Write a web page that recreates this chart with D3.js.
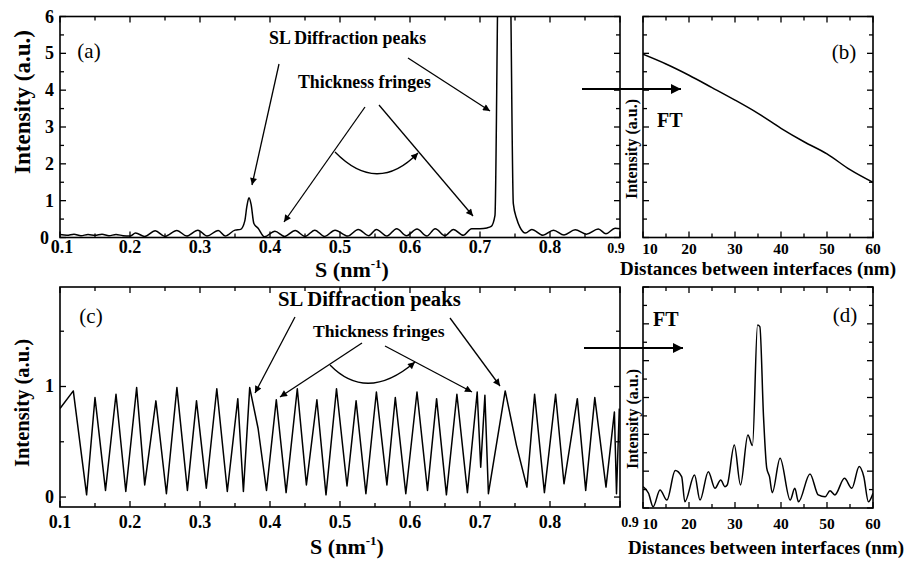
<!DOCTYPE html>
<html>
<head>
<meta charset="utf-8">
<script src="https://cdn.jsdelivr.net/npm/d3@7"></script>
<style>
  body { margin: 0; background: #fff; }
  text { fill: #000; }
</style>
</head>
<body>
<script>
// ---- data ----
// (a) reflectivity-like scan, intensity vs S (nm^-1)
var aS = [0.100,0.110,0.120,0.130,0.140,0.150,0.160,0.170,0.180,0.190,
          0.200,0.208,0.221,0.236,0.250,0.267,0.281,0.297,0.310,0.326,
          0.336,0.350,0.358,0.364,0.367,0.370,0.373,0.377,0.383,0.392,
          0.407,0.421,0.436,0.450,0.464,0.478,0.493,0.511,0.526,0.541,
          0.552,0.567,0.581,0.595,0.610,0.624,0.636,0.650,0.662,0.676,
          0.688,0.700,0.710,0.716,0.7214,0.7253,0.730,0.735,0.740,0.7439,
          0.7476,0.7524,0.757,0.765,0.774,0.790,0.805,0.820,0.836,0.852,
          0.869,0.880,0.893,0.900];
var aI = [0.08,0.06,0.09,0.05,0.08,0.06,0.09,0.05,0.08,0.05,
          0.04,0.12,0.03,0.18,0.03,0.19,0.04,0.20,0.04,0.19,
          0.04,0.20,0.22,0.45,0.85,1.08,0.90,0.38,0.25,0.02,
          0.17,0.03,0.19,0.03,0.20,0.03,0.20,0.04,0.22,0.05,
          0.22,0.04,0.24,0.05,0.23,0.04,0.24,0.05,0.22,0.06,
          0.24,0.24,0.26,0.30,0.60,6.50,12.0,15.0,12.0,6.50,
          0.92,0.51,0.28,0.12,0.22,0.06,0.20,0.07,0.21,0.09,
          0.23,0.10,0.25,0.24];

// (b) FT of (a)
var bD = [10,15,20,25,30,35,40,45,50,55,60];
var bI = [9.95,9.42,8.81,8.14,7.46,6.74,5.93,5.20,4.54,3.68,2.99];

// (c) normalised scan
var cS = [0.100,0.119,0.138,0.150,0.165,0.180,0.194,0.2095,0.221,0.237,
          0.252,0.267,0.282,0.295,0.309,0.324,0.339,0.354,0.362,0.371,
          0.383,0.395,0.409,0.423,0.439,0.452,0.467,0.480,0.495,0.510,
          0.523,0.537,0.552,0.567,0.579,0.594,0.610,0.625,0.638,0.652,
          0.667,0.682,0.696,0.701,0.707,0.712,0.736,0.752,0.767,0.778,
          0.792,0.808,0.820,0.839,0.851,0.864,0.880,0.892,0.895,0.899];
var cI = [0.80,0.96,0.02,0.90,0.06,0.93,0.05,0.99,0.11,0.87,
          0.03,0.99,0.06,0.87,0.08,0.98,0.05,0.89,0.05,0.99,
          0.62,0.06,0.88,0.04,0.98,0.11,0.88,0.02,0.98,0.10,
          0.87,0.03,0.95,0.11,0.90,0.03,0.95,0.06,0.89,0.02,
          0.93,0.04,0.95,0.27,0.92,0.03,0.96,0.47,0.09,0.93,
          0.04,0.93,0.12,0.89,0.06,0.90,0.09,0.77,0.03,0.80];

// (d) FT of (c)
var dD = [10.0,11.2,12.2,13.7,15.2,17.0,18.4,19.1,21.2,22.4,
          24.2,25.65,26.9,27.8,28.3,29.85,31.2,32.8,33.8,34.9,
          35.4,36.2,36.9,37.5,38.1,39.8,42.0,43.0,43.8,46.3,
          48.1,49.6,50.65,51.7,53.8,55.4,57.0,58.0,59.0,60.0];
var dI = [1.16,0.80,0.07,0.98,0.43,2.03,1.70,0.34,1.79,0.43,
          1.97,1.07,1.52,1.16,1.25,3.42,1.25,3.97,3.39,9.93,
          9.85,4.96,2.16,1.70,0.83,2.70,0.43,1.07,0.34,1.85,
          0.71,0.61,0.94,0.71,1.61,1.07,2.25,1.70,0.34,0.80];

// tick labels
var sTicks = [0.1,0.2,0.3,0.4,0.5,0.6,0.7,0.8,0.9];
var dTicks = [10,20,30,40,50,60];
var aYTicks = [0,1,2,3,4,5,6];
var cYTicks = [0,1];

// ---- drawing ----
var svg = d3.select("body").append("svg").attr("width", 909).attr("height", 563)
  .attr("font-family", "'Liberation Serif', 'Times New Roman', 'DejaVu Serif', serif");
var defs = svg.append("defs");

function marker(id, w, h) {
  defs.append("marker").attr("id", id)
    .attr("viewBox", "0 0 10 10").attr("refX", 10).attr("refY", 5)
    .attr("markerWidth", w).attr("markerHeight", h)
    .attr("markerUnits", "userSpaceOnUse").attr("orient", "auto")
    .append("path").attr("d", "M0,0 L10,5 L0,10 z").attr("fill", "#000");
}
marker("ah", 9, 7);
marker("ahBig", 12, 10);

var clipN = 0;
function panel(o) {
  var x = d3.scaleLinear().domain(o.xdom).range([o.x0, o.x1]);
  var y = d3.scaleLinear().domain(o.ydom).range([o.y1, o.y0]);
  var g = svg.append("g");
  var id = "clip" + (clipN++);
  defs.append("clipPath").attr("id", id).append("rect")
    .attr("x", o.x0).attr("y", o.y0).attr("width", o.x1 - o.x0).attr("height", o.y1 - o.y0);

  var line = d3.line().curve(o.curve || d3.curveLinear)
    .x(function(d) { return x(d[0]); }).y(function(d) { return y(d[1]); });
  g.append("path").datum(d3.zip(o.xs, o.ys))
    .attr("clip-path", "url(#" + id + ")")
    .attr("d", line).attr("fill", "none").attr("stroke", "#000")
    .attr("stroke-width", 1.5).attr("stroke-linejoin", "round");

  // ticks inward on all four sides
  function tick(x1, y1, x2, y2) {
    g.append("line").attr("x1", x1).attr("y1", y1).attr("x2", x2).attr("y2", y2)
      .attr("stroke", "#000").attr("stroke-width", 1.3);
  }
  o.xMinor.forEach(function(v) {
    var L = o.xMajor.some(function(m) { return Math.abs(m - v) < 1e-9; }) ? 6 : 4;
    tick(x(v), o.y1, x(v), o.y1 - L);
    tick(x(v), o.y0, x(v), o.y0 + L);
  });
  o.yMinor.forEach(function(v) {
    var L = o.yMajor.some(function(m) { return Math.abs(m - v) < 1e-9; }) ? 6 : 4;
    tick(o.x0, y(v), o.x0 + L, y(v));
    tick(o.x1, y(v), o.x1 - L, y(v));
  });

  g.append("rect").attr("x", o.x0).attr("y", o.y0)
    .attr("width", o.x1 - o.x0).attr("height", o.y1 - o.y0)
    .attr("fill", "none").attr("stroke", "#000").attr("stroke-width", 1.6);

  // tick labels
  o.xLabels.forEach(function(v, i) {
    var last = (i === o.xLabels.length - 1) && o.smallLast;
    var dx = i === 0 ? (o.firstDx || 0) : 0;
    g.append("text")
      .attr("x", x(v) + dx + (last ? o.lastDx : 0))
      .attr("y", o.xLabelY + (last ? o.lastDy : 0))
      .attr("text-anchor", "middle")
      .attr("font-weight", "bold")
      .attr("font-size", last ? 14 : o.xLabelSize)
      .text(v);
  });
  (o.yLabels || []).forEach(function(v) {
    var dx = v === 0 ? (o.zeroDx || 0) : 0;
    g.append("text").attr("x", o.x0 - 6 + dx).attr("y", y(v) + 6)
      .attr("text-anchor", "end").attr("font-weight", "bold").attr("font-size", 18)
      .text(v);
  });
  return { x: x, y: y, g: g };
}

var rangeStep = function(a, b, s) { return d3.range(Math.round((b - a) / s) + 1).map(function(i) { return +(a + i * s).toFixed(4); }); };

panel({ x0: 60, x1: 620, y0: 16.5, y1: 237.5, xdom: [0.1, 0.9], ydom: [0, 6],
  xs: aS, ys: aI, curve: d3.curveMonotoneX, xMajor: sTicks, xMinor: rangeStep(0.1, 0.9, 0.05),
  yMajor: aYTicks, yMinor: rangeStep(0, 6, 0.5),
  xLabels: sTicks, xLabelY: 252.5, xLabelSize: 18, yLabels: aYTicks,
  smallLast: true, lastDx: -4, lastDy: 0, firstDx: 2, zeroDx: -5 });

panel({ x0: 643, x1: 873, y0: 16.5, y1: 237.5, xdom: [10, 60], ydom: [0, 12],
  xs: bD, ys: bI, curve: d3.curveMonotoneX, xMajor: dTicks, xMinor: rangeStep(10, 60, 5),
  yMajor: rangeStep(0, 12, 2), yMinor: rangeStep(0, 12, 1),
  xLabels: dTicks, xLabelY: 254, xLabelSize: 15.5, firstDx: 7 });

panel({ x0: 60, x1: 620, y0: 287, y1: 507, xdom: [0.1, 0.9], ydom: [-0.09, 1.9],
  xs: cS, ys: cI, xMajor: sTicks, xMinor: rangeStep(0.1, 0.9, 0.05),
  yMajor: cYTicks, yMinor: rangeStep(0, 1.5, 0.5),
  xLabels: sTicks, xLabelY: 528, xLabelSize: 18, yLabels: cYTicks,
  smallLast: true, lastDx: 10, lastDy: -1 });

panel({ x0: 643, x1: 873, y0: 287, y1: 508, xdom: [10, 60], ydom: [0, 12],
  xs: dD, ys: dI, curve: d3.curveMonotoneX, xMajor: dTicks, xMinor: rangeStep(10, 60, 5),
  yMajor: rangeStep(0, 12, 2), yMinor: rangeStep(0, 12, 1),
  xLabels: dTicks, xLabelY: 529, xLabelSize: 15.5, firstDx: 7 });

// axis titles
function txt(x, y, s, size, weight, anchor, rot) {
  var t = svg.append("text").attr("x", x).attr("y", y)
    .attr("font-size", size).attr("font-weight", weight || "bold")
    .attr("text-anchor", anchor || "middle");
  if (rot) t.attr("transform", "rotate(-90," + x + "," + y + ")");
  return t.text(s);
}
txt(30, 102, "Intensity (a.u.)", 23, "bold", "middle", true);
txt(29, 403, "Intensity (a.u.)", 20.5, "bold", "middle", true);
txt(637, 149, "Intensity (a.u.)", 16, "bold", "middle", true);
txt(638, 419, "Intensity (a.u.)", 16, "bold", "middle", true);

function sTitle(x, y) {
  var t = svg.append("text").attr("x", x).attr("y", y)
    .attr("font-size", 22).attr("font-weight", "bold").attr("text-anchor", "middle");
  t.append("tspan").text("S (nm");
  t.append("tspan").attr("font-size", 13).attr("dy", -9).text("-1");
  t.append("tspan").attr("dy", 9).text(")");
}
sTitle(352, 277);
sTitle(347, 554);
txt(758, 275, "Distances between interfaces (nm)", 19);
txt(766, 554, "Distances between interfaces (nm)", 19);

// panel letters
txt(89, 58, "(a)", 21, "normal");
txt(844, 59, "(b)", 21, "normal");
txt(91, 323, "(c)", 21, "normal");
txt(845, 322, "(d)", 21, "normal");

// annotations
function arrow(x1, y1, x2, y2, big) {
  svg.append("line").attr("x1", x1).attr("y1", y1).attr("x2", x2).attr("y2", y2)
    .attr("stroke", "#000").attr("stroke-width", big ? 2 : 1.3)
    .attr("marker-end", big ? "url(#ahBig)" : "url(#ah)");
}
function arc(d) {
  svg.append("path").attr("d", d).attr("fill", "none").attr("stroke", "#000")
    .attr("stroke-width", 1.3).attr("marker-end", "url(#ah)");
}

txt(269, 44, "SL Diffraction peaks", 17.8, "bold", "start");
txt(298, 88, "Thickness fringes", 17.8, "bold", "start");
arrow(279, 64, 252, 185);
arrow(408, 58, 490, 111);
arrow(365, 107, 284, 222);
arrow(379, 105, 473, 216);
arc("M335,152 Q377,195 418,153");

txt(278, 306, "SL Diffraction peaks", 20.7, "bold", "start");
txt(313, 337, "Thickness fringes", 17.6, "bold", "start");
arrow(295, 317, 255, 393);
arrow(450, 318, 500, 386);
arrow(362, 343, 280, 397);
arrow(385, 346, 472, 392);
arc("M330,365 Q367,403 415,362");

// FT arrows
arrow(582, 89, 681, 89, true);
txt(657, 127, "FT", 20, "bold", "start");
arrow(584, 348, 683, 348, true);
txt(653, 326, "FT", 20, "bold", "start");
</script>
</body>
</html>
